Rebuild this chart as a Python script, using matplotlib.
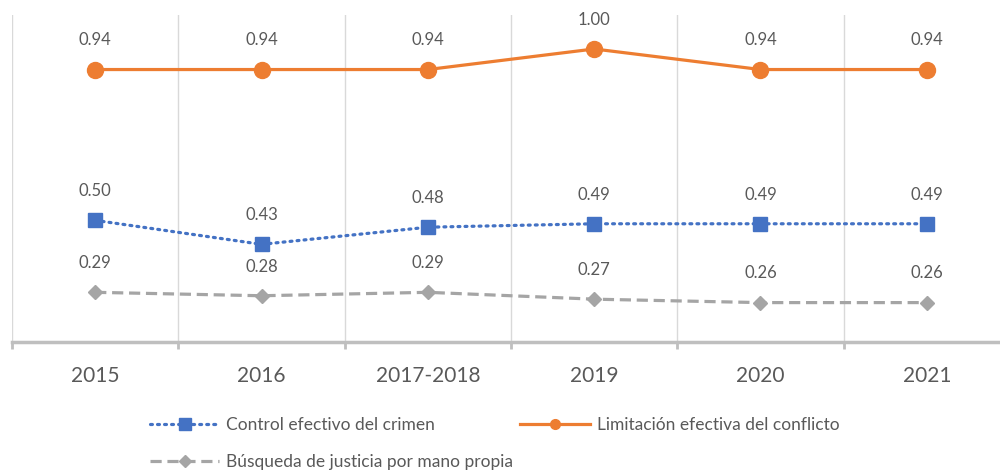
import matplotlib.pyplot as plt
from matplotlib.lines import Line2D
import numpy as np

plt.rcParams['font.family'] = ['Lato', 'DejaVu Sans']

# data
years = ["2015", "2016", "2017-2018", "2019", "2020", "2021"]
control = [0.50, 0.43, 0.48, 0.49, 0.49, 0.49]
limitacion = [0.94, 0.94, 0.94, 1.00, 0.94, 0.94]
busqueda = [0.29, 0.28, 0.29, 0.27, 0.26, 0.26]

label_control = "Control efectivo del crimen"
label_limit = "Limitación efectiva del conflicto"
label_busq = "Búsqueda de justicia por mano propia"

BLUE = "#4472C4"
ORANGE = "#ED7D31"
GRAY = "#A5A5A5"
TEXT = "#595959"

DOT = (0, (0.6, 1.6))
DASH = (0, (3.5, 1.8))

fig = plt.figure(figsize=(10, 4.7), dpi=100)
ax = fig.add_axes([0.012, 0.2723, 0.998, 0.6957])

x = np.arange(len(years))

ax.plot(x, control, color=BLUE, linestyle=DOT, linewidth=2.3,
        marker="s", markersize=10, dash_capstyle="round", zorder=3)
ax.plot(x, busqueda, color=GRAY, linestyle=DASH, linewidth=2.3,
        marker="D", markersize=7.5, zorder=3)
ax.plot(x, limitacion, color=ORANGE, linestyle="-", linewidth=2.3,
        marker="o", markersize=11.5, zorder=3)

# data labels above points
for series in (control, limitacion, busqueda):
    for xi, v in zip(x, series):
        ax.annotate(f"{v:.2f}", (xi, v), xytext=(0, 21), textcoords="offset points",
                    ha="center", va="center", fontsize=12, color=TEXT)

ax.set_xlim(-0.5, len(years) - 0.5)
ax.set_ylim(0.145, 1.099)
ax.set_yticks([])

ax.set_xticks(x)
ax.set_xticklabels(years, fontsize=15, color=TEXT)
ax.set_xticks(np.arange(-0.5, len(years), 1.0), minor=True)
ax.tick_params(axis="x", which="major", length=0, pad=17)
ax.tick_params(axis="x", which="minor", length=5, width=2, color="#BFBFBF", direction="out")
ax.grid(True, which="minor", axis="x", color="#D9D9D9", linewidth=1)

for side in ("top", "right", "left"):
    ax.spines[side].set_visible(False)
ax.spines["bottom"].set_color("#BFBFBF")
ax.spines["bottom"].set_linewidth(2.5)

# legend uses smaller markers than the plot
handles = [
    Line2D([], [], color=BLUE, linestyle=DOT, linewidth=2.3, marker="s",
           markersize=8, dash_capstyle="round"),
    Line2D([], [], color=GRAY, linestyle=DASH, linewidth=2.3, marker="D", markersize=6),
    Line2D([], [], color=ORANGE, linestyle="-", linewidth=2.3, marker="o", markersize=7),
]
labels = [label_control, label_busq, label_limit]
fig.legend(handles, labels, ncol=2, loc="upper left", bbox_to_anchor=(0.143, 0.128),
           frameon=False, fontsize=12.5, labelcolor=TEXT, handlelength=4.0,
           columnspacing=0.4, labelspacing=1.25, handletextpad=0.4, borderaxespad=0)

fig.savefig("out.png", dpi=100)
